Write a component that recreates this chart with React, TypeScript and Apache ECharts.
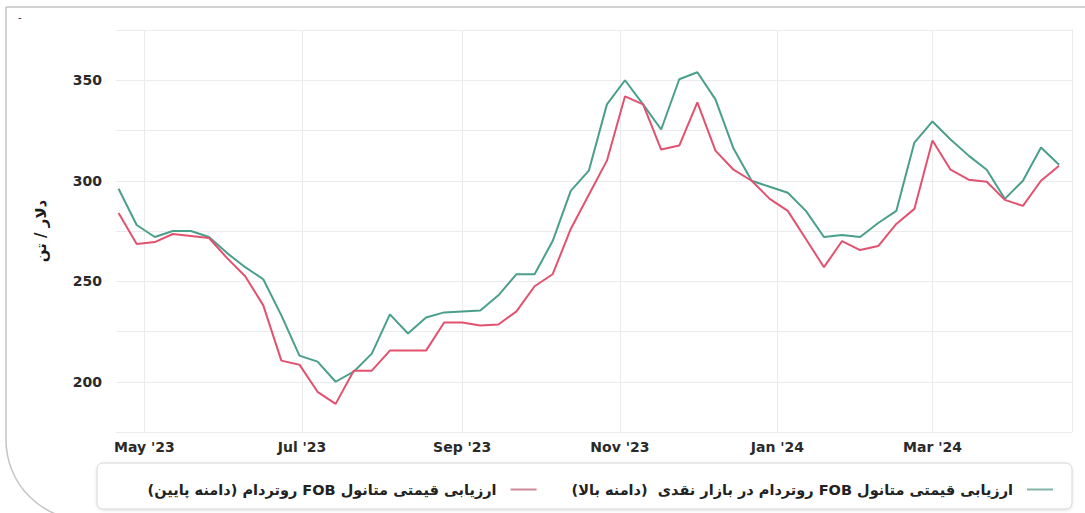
import React, { useEffect, useRef } from "react";
import * as echarts from "echarts";

const dates = [
  "2023-04-21", "2023-04-28",
  "2023-05-05", "2023-05-12", "2023-05-19", "2023-05-26",
  "2023-06-02", "2023-06-09", "2023-06-16", "2023-06-23", "2023-06-30",
  "2023-07-07", "2023-07-14", "2023-07-21", "2023-07-28",
  "2023-08-04", "2023-08-11", "2023-08-18", "2023-08-25",
  "2023-09-01", "2023-09-08", "2023-09-15", "2023-09-22", "2023-09-29",
  "2023-10-06", "2023-10-13", "2023-10-20", "2023-10-27",
  "2023-11-03", "2023-11-10", "2023-11-17", "2023-11-24",
  "2023-12-01", "2023-12-08", "2023-12-15", "2023-12-22", "2023-12-29",
  "2024-01-05", "2024-01-12", "2024-01-19", "2024-01-26",
  "2024-02-02", "2024-02-09", "2024-02-16", "2024-02-23",
  "2024-03-01", "2024-03-08", "2024-03-15", "2024-03-22", "2024-03-29",
  "2024-04-05", "2024-04-12", "2024-04-19",
];

const highValues = [
  296, 278,
  272, 275, 275, 272,
  264, 257, 251, 233, 213,
  210, 200, 205, 214,
  233.5, 224, 232, 234.5,
  235, 235.5, 243, 253.5, 253.5,
  270, 295, 305, 338,
  350, 338, 325.5, 350.5,
  354, 340.5, 316, 300, 297,
  294, 285, 272, 273,
  272, 279, 285, 319,
  329.5, 320.5, 312.5, 305.5, 291,
  300, 316.5, 308,
];

const lowValues = [
  284, 268.5,
  269.5, 273.5, 272.5, 271.5,
  261.5, 252.5, 238, 210.5, 208.5,
  195, 189, 205.5, 205.5,
  215.5, 215.5, 215.5, 229.5,
  229.5, 228, 228.5, 235, 247.5,
  253.5, 276, 293, 310,
  342, 338, 315.5, 317.5,
  339, 315, 305.5, 300, 291,
  285, 271, 257, 270,
  265.5, 267.5, 278.5, 286,
  320, 305.5, 300.5, 299.5, 290.5,
  287.5, 300, 307.5,
];

const monthNames = ["Jan", "Feb", "Mar", "Apr", "May", "Jun", "Jul", "Aug", "Sep", "Oct", "Nov", "Dec"];
const yLabelValues = [200, 250, 300, 350];

const RLE = "\u202B";
const PDF = "\u202C";
const highName = "ارزیابی قیمتی متانول FOB روتردام در بازار نقدی  (دامنه بالا)";
const lowName = "ارزیابی قیمتی متانول FOB روتردام (دامنه پایین)";
const yAxisName = "دلار / تن";

const GREEN = "#4a9f8b";
const RED = "#e2526f";
const FONT = "DejaVu Sans";

export default function App() {
  const ref = useRef<HTMLDivElement>(null);

  useEffect(() => {
    if (!ref.current) return;
    const chart = echarts.init(ref.current, null, { renderer: "svg" });
    const toPairs = (vals: number[]) => dates.map((d, i) => [d, vals[i]]);
    chart.setOption({
      animation: false,
      backgroundColor: "#ffffff",
      grid: { left: 116, right: 13, top: 30, bottom: 81, containLabel: false },
      graphic: [
        {
          type: "rect",
          z: 0,
          shape: { x: 6, y: 7, width: 1110, height: 513, r: [0, 0, 0, 80] },
          style: { fill: "none", stroke: "#c4c4c4", lineWidth: 1.5 },
          silent: true,
        },
        {
          type: "text",
          z: 1,
          x: 18,
          y: 12,
          style: { text: "-", fontSize: 10, fill: "#333", fontFamily: FONT },
          silent: true,
        },
        {
          type: "rect",
          z: 0,
          shape: { x: 97, y: 463, width: 975, height: 46, r: 6 },
          style: {
            fill: "#ffffff",
            stroke: "#d6d6d6",
            lineWidth: 1,
            shadowBlur: 3,
            shadowColor: "rgba(0,0,0,0.12)",
            shadowOffsetY: 1,
          },
          silent: true,
        },
      ],
      legend: {
        right: 27,
        top: 477,
        align: "right",
        icon: "rect",
        itemWidth: 26,
        itemHeight: 2,
        itemGap: 35,
        textStyle: {
          fontFamily: FONT,
          fontWeight: "bold",
          fontSize: 14.5,
          color: "#222",
          padding: [0, 9, 0, 0],
        },
        formatter: (n: string) => RLE + n + PDF,
        data: [
          { name: lowName, itemStyle: { color: "#cf8a9b" } },
          { name: highName, itemStyle: { color: "#80b5a8" } },
        ],
      },
      xAxis: {
        type: "time",
        min: "2023-04-20",
        max: "2024-04-24",
        splitNumber: 5,
        axisLine: { show: false },
        axisTick: { show: false },
        splitLine: {
          show: true,
          showMinLine: false,
          showMaxLine: false,
          lineStyle: { color: "#ebebeb", width: 1 },
        },
        axisLabel: {
          showMinLabel: false,
          showMaxLabel: false,
          margin: 8,
          fontFamily: FONT,
          fontWeight: "bold",
          fontSize: 14,
          color: "#2a2a2a",
          formatter: (v: number) => {
            const d = new Date(v);
            return monthNames[d.getMonth()] + " '" + String(d.getFullYear()).slice(2);
          },
        },
      },
      yAxis: [
        {
          type: "value",
          min: 175,
          max: 375,
          interval: 25,
          name: RLE + yAxisName + PDF,
          nameLocation: "middle",
          nameRotate: 90,
          nameGap: 68,
          nameTextStyle: { fontFamily: FONT, fontWeight: "bold", fontSize: 15, color: "#1a1a1a" },
          axisLine: { show: false },
          axisTick: { show: false },
          splitLine: { show: true, lineStyle: { color: "#ebebeb", width: 1 } },
          axisLabel: {
            margin: 14,
            fontFamily: FONT,
            fontWeight: "bold",
            fontSize: 14,
            color: "#2a2a2a",
            formatter: (v: number) => (yLabelValues.includes(v) ? String(v) : ""),
          },
        },
        {
          type: "value",
          position: "right",
          min: 175,
          max: 375,
          interval: 25,
          axisLine: { show: true, lineStyle: { color: "#ebebeb", width: 1 } },
          axisTick: { show: false },
          axisLabel: { show: false },
          splitLine: { show: false },
        },
      ],
      series: [
        {
          name: highName,
          type: "line",
          data: toPairs(highValues),
          showSymbol: false,
          symbol: "none",
          lineStyle: { color: GREEN, width: 2 },
          itemStyle: { color: GREEN },
          z: 2,
        },
        {
          name: lowName,
          type: "line",
          data: toPairs(lowValues),
          showSymbol: false,
          symbol: "none",
          lineStyle: { color: RED, width: 2 },
          itemStyle: { color: RED },
          z: 3,
        },
      ],
    });
    return () => chart.dispose();
  }, []);

  return (
    <div
      ref={ref}
      style={{ position: "fixed", left: 0, top: 0, width: 1085, height: 513, background: "#fff" }}
    />
  );
}
